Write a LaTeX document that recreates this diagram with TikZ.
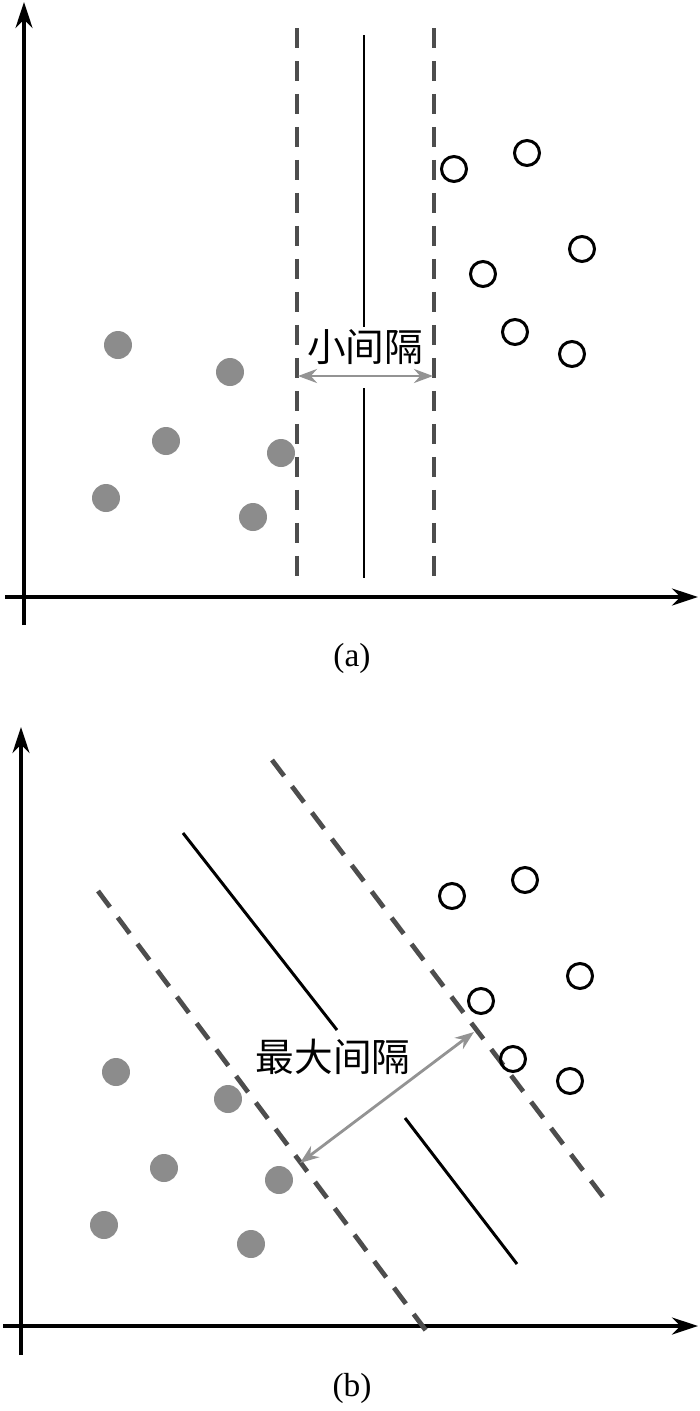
\documentclass[tikz,border=0pt]{standalone}
\usepackage{fontspec}
\setmainfont{Liberation Serif}
\newfontfamily\cjk{Noto Sans CJK SC}
\usetikzlibrary{arrows.meta}

\definecolor{dotgray}{HTML}{8C8C8C}
\definecolor{margingray}{HTML}{4D4D4D}
\definecolor{arrowgray}{HTML}{939393}

% sample points (pixel units, panel (a))
\newcommand*{\negpts}{118/345, 230/372, 166/441, 281/453, 106/498, 253/517}
\newcommand*{\pospts}{454/169, 527/153, 582/249, 483/274, 515/332, 572/354}

\begin{document}
\begin{tikzpicture}[x=0.02cm,y=-0.02cm,
  axis/.style={line width=1.8pt,-{Stealth[length=0.52cm,width=0.34cm]}},
  margin/.style={margingray,line width=2.7pt,dash pattern=on 0.4cm off 0.26cm},
  boundary/.style={black,line width=1.7pt},
  gap/.style={arrowgray,line width=1.6pt,{Stealth[length=0.38cm,width=0.28cm]}-{Stealth[length=0.38cm,width=0.28cm]}},
  caption/.style={font=\fontsize{19}{22}\selectfont},
  gaplabel/.style={font=\cjk\fontsize{22}{26}\selectfont}]

	\useasboundingbox (0,0) rectangle (700,1411);

	% (a): axes
	\draw[axis] (5,597) -- (698,597);
	\draw[axis] (24,625) -- (24,2);

	\draw[margin] (297,28) -- (297,582);
	\draw[margin] (434,28) -- (434,582);
	\draw[boundary] (364,35) -- (364,327);
	\draw[boundary] (364,388) -- (364,578);

	\coordinate (gapL) at (298,376);
	\coordinate (gapR) at (433,376);
	\draw[gap] (gapL) -- (gapR);
	\node[gaplabel] (smallgap) at (365,347) {小间隔};

	\foreach \px/\py in \negpts
	  \fill[dotgray] (\px,\py) circle[radius=0.28cm];
	\foreach \px/\py in \pospts
	  \draw[line width=1.7pt] (\px,\py) circle[radius=0.25cm];

	\node[caption] (capa) at (352,658) {(a)};

	% (b): axes
	\draw[axis] (3,1326) -- (698,1326);
	\draw[axis] (21,1355) -- (21,727);

	\draw[margin] (272,760) -- (607,1202);
	\draw[margin] (98,891) -- (430,1336);
	\draw[boundary] (183,833) -- (337,1030);
	\draw[boundary] (405,1118) -- (517,1264);

	\coordinate (wideL) at (300,1163);
	\coordinate (wideR) at (474,1032);
	\draw[gap] (wideL) -- (wideR);
	\node[gaplabel] (widegap) at (333,1057) {最大间隔};

	\begin{scope}[shift={(-2,727)}]
	  \foreach \px/\py in \negpts
	    \fill[dotgray] (\px,\py) circle[radius=0.28cm];
	  \foreach \px/\py in \pospts
	    \draw[line width=1.7pt] (\px,\py) circle[radius=0.25cm];
	\end{scope}

	\node[caption] (capb) at (352,1388) {(b)};

\end{tikzpicture}
\end{document}
